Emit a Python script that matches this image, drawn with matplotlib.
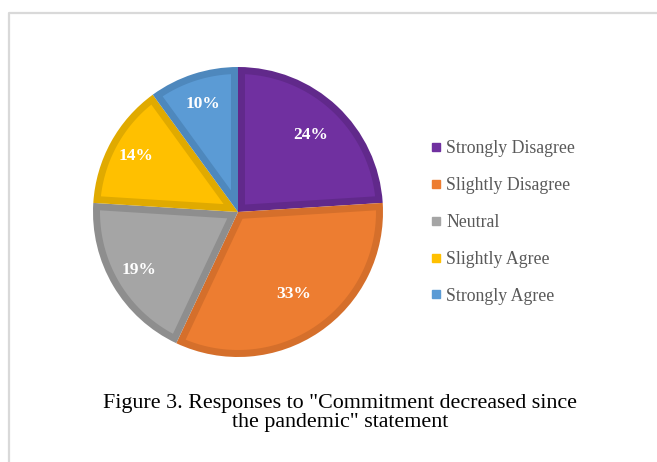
import matplotlib.pyplot as plt
from matplotlib.lines import Line2D
from matplotlib.patches import Polygon
import numpy as np

# survey responses
categories = ["Strongly Disagree", "Slightly Disagree", "Neutral", "Slightly Agree", "Strongly Agree"]
shares = [24, 33, 19, 14, 10]
fills = ["#7030A0", "#ED7D31", "#A5A5A5", "#FFC000", "#5B9BD5"]
edges = ["#61298b", "#d56f2b", "#8e8e8e", "#e0aa00", "#4e88bd"]
label_radius = [0.73, 0.68, 0.79, 0.80, 0.78]
caption = 'Figure 3. Responses to "Commitment decreased since\nthe pandemic" statement'

plt.rcParams["font.family"] = ["Liberation Serif", "DejaVu Serif"]

W, H = 657, 462
fig = plt.figure(figsize=(W / 100, H / 100), dpi=100)
fig.patch.set_facecolor("white")

# light frame on the top and left
fig.add_artist(Line2D([9 / W, 9 / W, 1.0], [0.0, 1 - 13 / H, 1 - 13 / H],
                      transform=fig.transFigure, color="#d9d9d9", lw=1.6))

cx, cy, r = 238, 212, 145
ax = fig.add_axes([(cx - r) / W, 1 - (cy + r) / H, 2 * r / W, 2 * r / H])
# full slices in the darker outline colour
wedges, _ = ax.pie(shares, colors=edges, startangle=90, counterclock=False,
                   radius=1.0, wedgeprops=dict(linewidth=0))


def inset_slice(t1, t2, d, R=1.0, n=80):
    """Slice between angles t1<t2 (deg) shrunk by d on every side."""
    a1, a2 = np.deg2rad(t1), np.deg2rad(t2)
    half = (a2 - a1) / 2
    tip = d / np.sin(half)
    bis = (a1 + a2) / 2
    t = np.sqrt((R - d) ** 2 - d ** 2)
    off = np.arctan2(d, t)
    arc = np.linspace(a1 + off, a2 - off, n)
    xs = np.r_[tip * np.cos(bis), (R - d) * np.cos(arc)]
    ys = np.r_[tip * np.sin(bis), (R - d) * np.sin(arc)]
    return np.column_stack([xs, ys])


# inner fill leaves a band of outline colour on each slice
inset = 7.0 / r
for w, fc in zip(wedges, fills):
    ax.add_patch(Polygon(inset_slice(w.theta1, w.theta2, inset), closed=True,
                         facecolor=fc, edgecolor="none"))

# percentage labels at the slice mid-angles
for w, val, rr in zip(wedges, shares, label_radius):
    mid = np.deg2rad((w.theta1 + w.theta2) / 2)
    ax.text(rr * np.cos(mid), rr * np.sin(mid), f"{val}%", ha="center", va="center",
            color="white", fontsize=12.5, fontweight="bold")
ax.set_xlim(-1, 1)
ax.set_ylim(-1, 1)
ax.axis("off")

handles = [Line2D([], [], marker="s", linestyle="none", markersize=5.5,
                  markerfacecolor=c, markeredgecolor=c) for c in fills]
fig.legend(handles, categories, loc="upper left", bbox_to_anchor=(431 / W, 1 - 140 / H),
           frameon=False, fontsize=12.8, labelcolor="#595959", handlelength=0.6,
           handletextpad=0.25, labelspacing=1.12, borderaxespad=0, borderpad=0)

fig.text(340 / W, 1 - 413 / H, caption, ha="center", va="center", fontsize=15.8,
         color="black", linespacing=0.95)

fig.savefig("out.png", dpi=100)
